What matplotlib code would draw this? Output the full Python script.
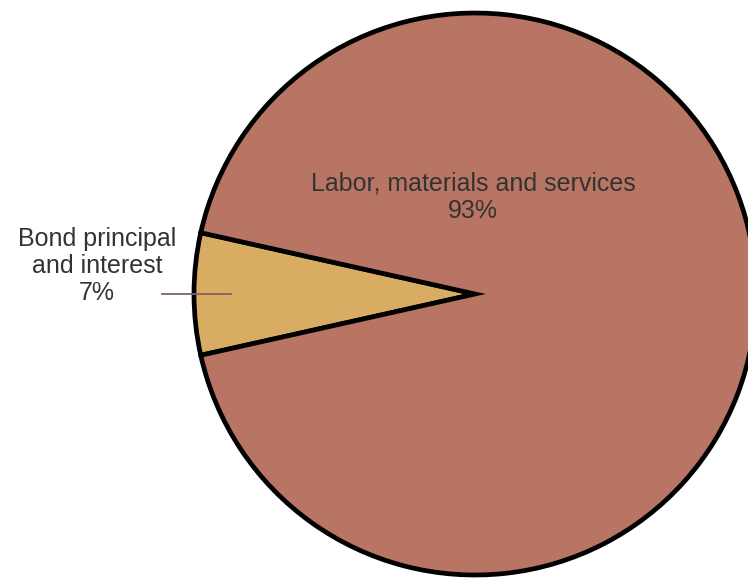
import matplotlib.pyplot as plt

# 支出构成
labels = ['Bond principal\nand interest', 'Labor, materials and services']
shares = [7, 93]
colors = ['#D8AC62', '#B87563']

plt.rcParams['font.family'] = ['Liberation Sans', 'DejaVu Sans']

fig = plt.figure(figsize=(7.48, 5.79), dpi=100)
ax = fig.add_axes([0, 0, 1, 1])

# 小扇形朝左，居中于 180 度
start = 180 - shares[0] / sum(shares) * 360 / 2
ax.pie(shares, colors=colors, startangle=start, counterclock=True,
       center=(475, 294), radius=281, frame=True,
       wedgeprops={'edgecolor': 'black', 'linewidth': 3.4})
ax.set_xlim(0, 748)
ax.set_ylim(579, 0)
ax.set_aspect('equal')
ax.axis('off')

# 标签
ax.text(97, 266, f'{labels[0]}\n{shares[0]}%', ha='center', va='center',
        fontsize=18, color='#333333', linespacing=1.17)
ax.plot([162, 231], [294, 294], color='#7D6366', linewidth=1.3)
ax.text(473, 197, f'{labels[1]}\n{shares[1]}%', ha='center', va='center',
        fontsize=18, color='#333333', linespacing=1.2)

fig.savefig('out.png', dpi=100)
